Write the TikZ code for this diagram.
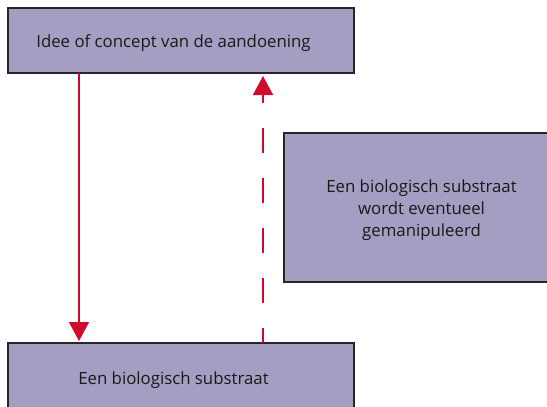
\documentclass[tikz,border=0pt]{standalone}
\usepackage{fontspec}
\setmainfont{Open Sans}
\usetikzlibrary{arrows.meta}
\definecolor{boxfill}{HTML}{A69DC3}
\definecolor{arrowred}{HTML}{CF0A2C}
\begin{document}
\begin{tikzpicture}[x=1pt,y=-1pt,
  box/.style={draw=black!85,line width=1.2pt,fill=boxfill},
  lbl/.style={font=\fontsize{16.8}{22}\selectfont,text=black!90,align=center},
  conn/.style={draw=arrowred,line width=1.6pt,-{Triangle[width=20pt,length=19pt]}}]
\useasboundingbox (0,0) rectangle (547,407);
\begin{scope}
\clip (0,0) rectangle (547,407);
\draw[box] (8,8) rectangle (354,73);
\draw[box] (8,343) rectangle (354,420);
\draw[box] (284,133) rectangle (560,282);
\end{scope}
\node[lbl] (top) at (173.5,43) {Idee of concept van de aandoening};
\node[lbl] (bot) at (173.5,380) {Een biologisch substraat};
\node[lbl] (mid) at (421.5,210) {Een biologisch substraat\\wordt eventueel\\gemanipuleerd};
\coordinate (a1) at (79,73);
\coordinate (a2) at (79,341);
\coordinate (b1) at (263,343);
\coordinate (b2) at (263,76);
\draw[conn] (a1) -- (a2);
\draw[conn,dash pattern=on 15pt off 25pt on 25pt off 25pt on 25pt off 25pt on 25pt off 25pt on 25pt off 25pt on 100pt] (b1) -- (b2);
\end{tikzpicture}
\end{document}
